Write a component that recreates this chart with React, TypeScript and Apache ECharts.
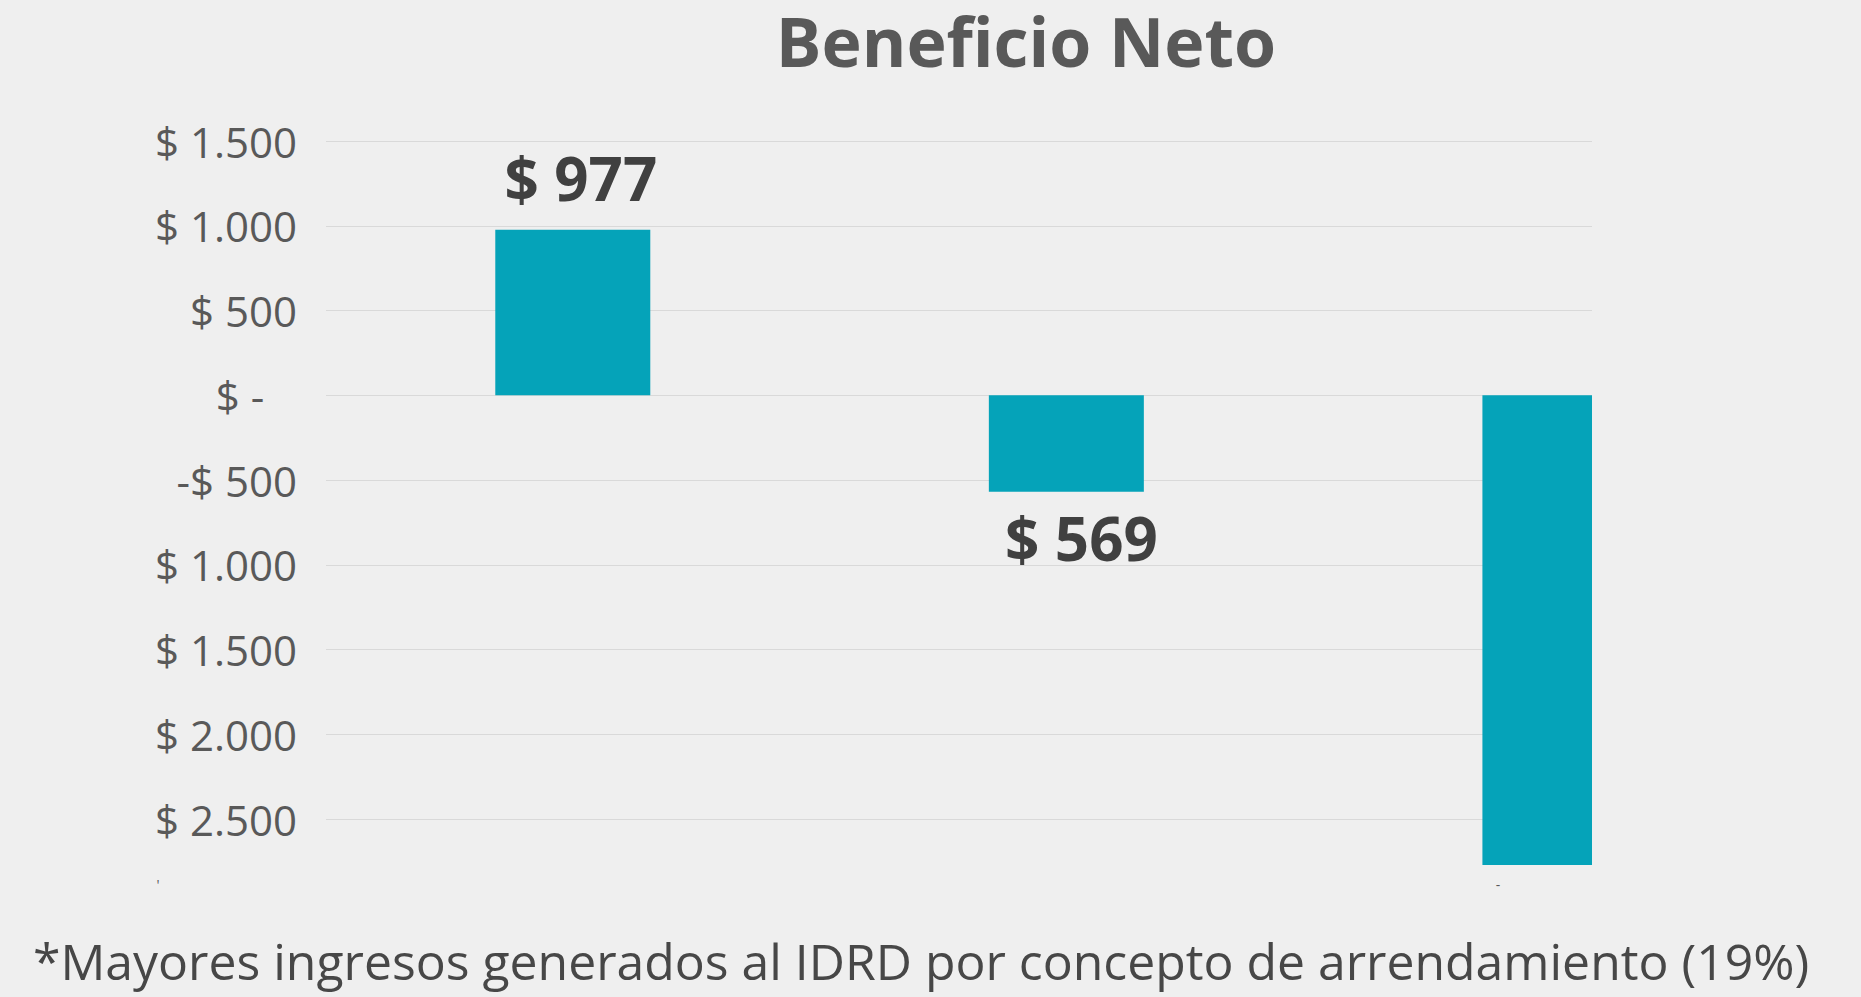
import React, { useEffect, useRef } from 'react';
import * as echarts from 'echarts';

const categories = ['Ingresos', 'Egresos', 'Neto'];
const values = [977, -569, -2770];
const valueLabels = ['$ 977', '$ 569', ''];
const yTickValues = [-3000, -2500, -2000, -1500, -1000, -500, 0, 500, 1000, 1500];
const yTickLabels = ['', '$ 2.500', '$ 2.000', '$ 1.500', '$ 1.000', '-$ 500', '$ -   ', '$ 500', '$ 1.000', '$ 1.500'];
const titleText = 'Beneficio Neto';
const footnote = '*Mayores ingresos generados al IDRD por concepto de arrendamiento (19%)';
const axisMarks = ["'", '-'];

const BAR_COLOR = '#05A3B9';
const BAR_WIDTH = 155;

export default function App() {
  const ref = useRef<HTMLDivElement>(null);
  useEffect(() => {
    const chart = echarts.init(ref.current!, null, { renderer: 'svg' });
    const data = values.map((v, i) => ({ name: categories[i], value: [i, v] }));
    const splitColors = yTickValues.map((t, i) => (i === 0 ? 'rgba(0,0,0,0)' : '#d9d9d9'));

    const renderItem = (params: any, api: any) => {
      const xi = api.value(0);
      const v = api.value(1);
      const p0 = api.coord([xi, 0]);
      const p1 = api.coord([xi, v]);
      const cs = params.coordSys;
      const rect = echarts.graphic.clipRectByRect(
        {
          x: p0[0] - BAR_WIDTH / 2,
          y: Math.min(p0[1], p1[1]),
          width: BAR_WIDTH,
          height: Math.abs(p1[1] - p0[1]),
        },
        { x: cs.x, y: cs.y, width: cs.width, height: cs.height }
      );
      if (!rect) return null;
      const label = valueLabels[params.dataIndex];
      const el: any = {
        type: 'rect',
        shape: rect,
        style: { fill: BAR_COLOR },
      };
      if (label) {
        el.textContent = {
          style: {
            text: label,
            fontFamily: 'Open Sans',
            fontWeight: 'bold',
            fontSize: 60,
            fill: '#404040',
          },
        };
        el.textConfig = {
          position: v >= 0 ? 'top' : 'bottom',
          distance: v >= 0 ? 22 : 16,
          offset: [v >= 0 ? 8 : 15, 0],
        };
      }
      return el;
    };

    chart.setOption({
      animation: false,
      backgroundColor: '#efefef',
      grid: { left: 326, top: 141, width: 1266, height: 763, containLabel: false },
      xAxis: {
        type: 'value',
        min: -0.5,
        max: 2.065,
        show: false,
      },
      yAxis: {
        type: 'value',
        min: -3000,
        max: 1500,
        interval: 500,
        axisLine: { show: false },
        axisTick: { show: false },
        axisLabel: {
          margin: 29,
          fontFamily: 'Open Sans',
          fontSize: 42,
          color: '#595959',
          formatter: (v: number) => {
            const idx = yTickValues.indexOf(v);
            return idx >= 0 ? yTickLabels[idx] : '';
          },
        },
        splitLine: { show: true, lineStyle: { color: splitColors, width: 1 } },
      },
      series: [
        {
          type: 'custom',
          renderItem,
          data,
          encode: { x: 0, y: 1 },
          clip: true,
        },
      ],
      graphic: [
        {
          type: 'text',
          x: 1026,
          y: 40,
          style: {
            text: titleText,
            fontFamily: 'Open Sans',
            fontWeight: 'bold',
            fontSize: 68,
            fill: '#595959',
            textAlign: 'center',
            textVerticalAlign: 'middle',
          },
        },
        {
          type: 'text',
          x: 33,
          y: 961,
          style: {
            text: footnote,
            fontFamily: 'Open Sans',
            fontSize: 49.9,
            fill: '#474747',
            textAlign: 'left',
            textVerticalAlign: 'middle',
          },
        },
        {
          type: 'text',
          x: 158,
          y: 884,
          style: { text: axisMarks[0], fontFamily: 'Open Sans', fontSize: 14, fill: '#595959', textAlign: 'center', textVerticalAlign: 'middle' },
        },
        {
          type: 'text',
          x: 1498,
          y: 884,
          style: { text: axisMarks[1], fontFamily: 'Open Sans', fontSize: 14, fill: '#595959', textAlign: 'center', textVerticalAlign: 'middle' },
        },
      ],
    });
    return () => chart.dispose();
  }, []);
  return <div ref={ref} style={{ position: 'absolute', left: 0, top: 0, width: 1861, height: 997 }} />;
}
